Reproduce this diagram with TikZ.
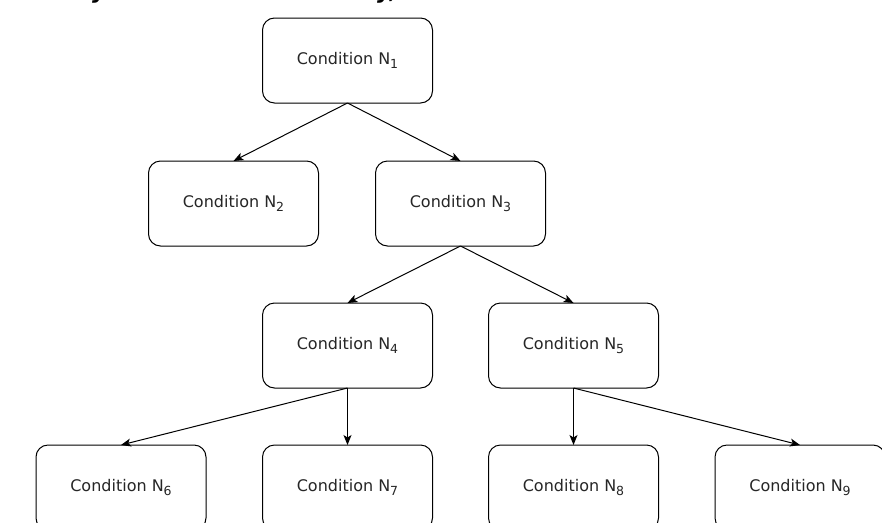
\documentclass[tikz,border=0pt]{standalone}
\usepackage{fontspec}
\setmainfont{DejaVu Sans}
\usetikzlibrary{arrows.meta}
\newcommand{\condsub}[1]{\raisebox{-3.5pt}{\fontsize{12.5}{13}\selectfont #1}}
\begin{document}
\begin{tikzpicture}[x=1pt,y=-1pt,
  condbox/.style={draw=black, line width=1pt, rounded corners=12pt, fill=white,
    minimum width=170pt, minimum height=85pt, inner sep=0pt, outer sep=0pt,
    font=\fontsize{16}{19}\selectfont, text=black!85},
  link/.style={draw=black, line width=1pt, -{Stealth[length=10pt,width=8pt,inset=2.5pt]}},
  cuttitle/.style={anchor=base west, inner sep=0pt, font=\fontsize{22}{26}\selectfont\bfseries\itshape}
]
\useasboundingbox (0,0) rectangle (882,522);
\node[cuttitle] (t1) at (92,-1.5) {y};
\node[cuttitle] (t2) at (377,-1.5) {y,};
\node[condbox] (n1) at (347.5,60.5) {Condition N\condsub{1}};
\node[condbox] (n2) at (233.5,203.5) {Condition N\condsub{2}};
\node[condbox] (n3) at (460.5,203.5) {Condition N\condsub{3}};
\node[condbox] (n4) at (347.5,345.5) {Condition N\condsub{4}};
\node[condbox] (n5) at (573.5,345.5) {Condition N\condsub{5}};
\node[condbox] (n6) at (121,487.5) {Condition N\condsub{6}};
\node[condbox] (n7) at (347.5,487.5) {Condition N\condsub{7}};
\node[condbox] (n8) at (573.5,487.5) {Condition N\condsub{8}};
\node[condbox] (n9) at (800,487.5) {Condition N\condsub{9}};
\draw[link] (n1.south) -- (n2.north);
\draw[link] (n1.south) -- (n3.north);
\draw[link] (n3.south) -- (n4.north);
\draw[link] (n3.south) -- (n5.north);
\draw[link] (n4.south) -- (n6.north);
\draw[link] (n4.south) -- (n7.north);
\draw[link] (n5.south) -- (n8.north);
\draw[link] (n5.south) -- (n9.north);
\end{tikzpicture}
\end{document}
